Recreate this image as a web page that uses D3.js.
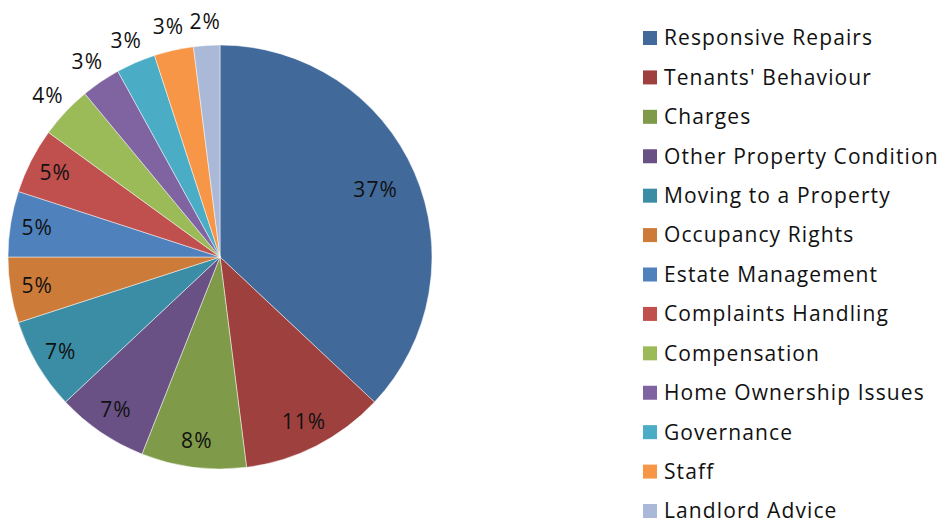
<!DOCTYPE html>
<html>
<head>
<meta charset="utf-8">
<script src="https://cdn.jsdelivr.net/npm/d3@7"></script>
<style>
  html, body { margin: 0; padding: 0; background: #fff; }
  #chart { width: 941px; height: 524px; }
  text { font-family: "Open Sans", sans-serif; letter-spacing: 1.1px; }
</style>
</head>
<body>
<div id="chart"></div>
<script>
const CATEGORIES = [
  "Responsive Repairs", "Tenants' Behaviour", "Charges", "Other Property Condition",
  "Moving to a Property", "Occupancy Rights", "Estate Management", "Complaints Handling",
  "Compensation", "Home Ownership Issues", "Governance", "Staff", "Landlord Advice"
];
const VALUES = [37, 11, 8, 7, 7, 5, 5, 5, 4, 3, 3, 3, 2];
const COLORS = [
  "#416A9B", "#9E413E", "#7F9A48", "#695185", "#3A8DA4", "#CC7B38",
  "#4F81BD", "#C0504D", "#9BBB59", "#8064A2", "#4BACC6", "#F79646", "#AAB9D7"
];

const width = 941, height = 524;
const cx = 220, cy = 257, R = 212;

const svg = d3.select("#chart").append("svg")
  .attr("width", width)
  .attr("height", height);

const total = d3.sum(VALUES);
const data = CATEGORIES.map((c, i) => ({ label: c, value: VALUES[i], color: COLORS[i] }));

const pie = d3.pie().value((d) => d.value).sort(null);
const arcs = pie(data);
const arc = d3.arc().innerRadius(0).outerRadius(R);

const g = svg.append("g").attr("transform", `translate(${cx},${cy})`);

g.selectAll("path")
  .data(arcs)
  .join("path")
  .attr("d", arc)
  .attr("fill", (d) => d.data.color)
  .attr("stroke", "#ffffff")
  .attr("stroke-opacity", 0.6)
  .attr("stroke-width", 0.8);

// label radius: big slice near middle, medium inside the rim, small ones outside
function labelRadius(d) {
  const pct = d.data.value / total;
  if (pct > 0.2) return R * 0.8;
  if (pct >= 0.05) return R - 27;
  return R + 24;
}

g.selectAll(".pct")
  .data(arcs)
  .join("text")
  .attr("class", "pct")
  .attr("x", (d) => Math.sin((d.startAngle + d.endAngle) / 2) * labelRadius(d))
  .attr("y", (d) => -Math.cos((d.startAngle + d.endAngle) / 2) * labelRadius(d))
  .attr("dy", "0.35em")
  .attr("text-anchor", "middle")
  .attr("font-size", "21px")
  .attr("fill", "#111")
  .text((d) => Math.round(d.data.value / total * 100) + "%");

// Legend
const legendY = d3.scalePoint().domain(CATEGORIES).range([38, 511]);

const legend = svg.append("g");
legend.selectAll("rect")
  .data(data)
  .join("rect")
  .attr("x", 643)
  .attr("y", (d) => legendY(d.label) - 7)
  .attr("width", 14)
  .attr("height", 14)
  .attr("fill", (d) => d.color);

legend.selectAll("text")
  .data(data)
  .join("text")
  .attr("x", 664)
  .attr("y", (d) => legendY(d.label))
  .attr("dy", "0.35em")
  .attr("font-size", "21px")
  .attr("fill", "#111")
  .text((d) => d.label);
</script>
</body>
</html>
